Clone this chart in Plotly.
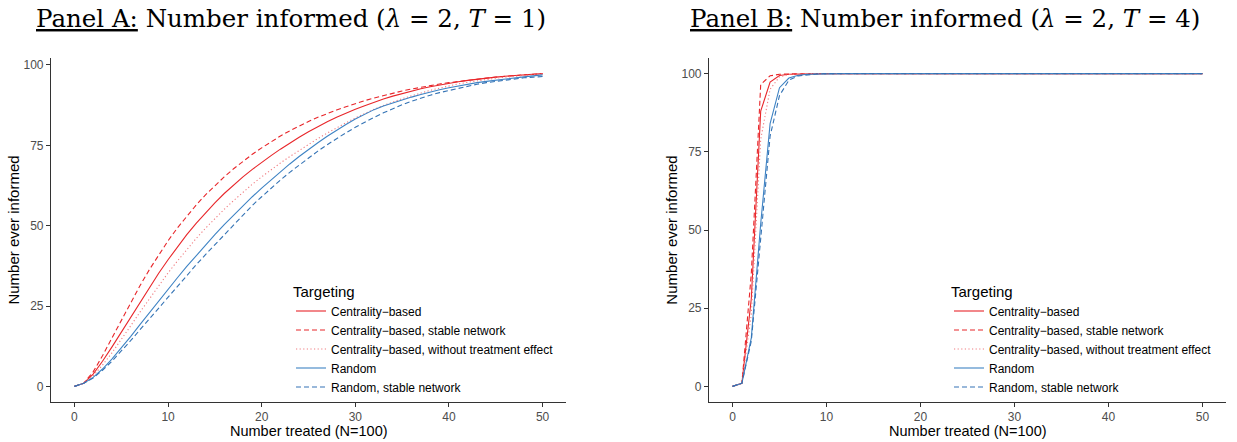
import plotly.graph_objects as go

# ---------------- data ----------------
x_treated = list(range(0, 51))

series_names = [
    "Centrality\u2212based",
    "Centrality\u2212based, stable network",
    "Centrality\u2212based, without treatment effect",
    "Random",
    "Random, stable network",
]

# Panel A (lambda = 2, T = 1)
a_central = [0, 1, 3.8, 7.8, 12.2, 16.8, 21.5, 26.2, 30.8, 35.2, 39.4, 43.4, 47.2, 50.7, 54.0,
             57.1, 60.0, 62.7, 65.2, 67.5, 69.7, 71.8, 73.8, 75.7, 77.5, 79.2, 80.8, 82.3, 83.7,
             85.0, 86.2, 87.3, 88.4, 89.4, 90.3, 91.1, 91.9, 92.6, 93.2, 93.8, 94.3, 94.8, 95.2,
             95.6, 95.9, 96.2, 96.5, 96.7, 96.9, 97.1, 97.3]
a_central_stable = [0, 1, 4.5, 9.5, 15.0, 20.5, 26.0, 31.3, 36.3, 41.0, 45.3, 49.3, 53.0, 56.4,
                    59.6, 62.5, 65.2, 67.7, 70.0, 72.2, 74.2, 76.1, 77.9, 79.5, 81.0, 82.4, 83.7,
                    84.9, 86.0, 87.0, 88.0, 88.9, 89.7, 90.5, 91.2, 91.9, 92.5, 93.1, 93.6, 94.1,
                    94.5, 94.9, 95.3, 95.6, 95.9, 96.2, 96.5, 96.7, 96.9, 97.1, 97.3]
a_central_no_te = [0, 1, 3.3, 6.6, 10.4, 14.5, 18.8, 23.1, 27.3, 31.4, 35.3, 39.0, 42.6, 46.0,
                   49.2, 52.2, 55.1, 57.8, 60.4, 62.9, 65.2, 67.4, 69.5, 71.5, 73.4, 75.3, 77.1,
                   78.8, 80.5, 82.0, 83.5, 84.9, 86.2, 87.4, 88.5, 89.5, 90.4, 91.3, 92.1, 92.8,
                   93.5, 94.1, 94.6, 95.1, 95.5, 95.9, 96.2, 96.5, 96.8, 97.0, 97.2]
a_random = [0, 1, 2.8, 5.4, 8.5, 11.9, 15.5, 19.2, 22.9, 26.6, 30.2, 33.8, 37.3, 40.7, 44.0,
            47.2, 50.3, 53.3, 56.2, 59.0, 61.7, 64.3, 66.8, 69.2, 71.5, 73.7, 75.8, 77.8, 79.7,
            81.5, 83.2, 84.7, 86.1, 87.2, 88.2, 89.1, 90.0, 90.8, 91.6, 92.3, 92.9, 93.5, 94.0,
            94.5, 94.9, 95.3, 95.7, 96.0, 96.3, 96.6, 96.9]
a_random_stable = [0, 1, 2.6, 5.0, 7.8, 10.9, 14.2, 17.6, 21.0, 24.4, 27.8, 31.2, 34.5, 37.8,
                   41.0, 44.1, 47.3, 50.4, 53.4, 56.3, 59.0, 61.7, 64.2, 66.6, 68.9, 71.1, 73.2,
                   75.2, 77.1, 78.9, 80.6, 82.2, 83.7, 85.1, 86.4, 87.6, 88.7, 89.7, 90.6, 91.4,
                   92.1, 92.8, 93.4, 94.0, 94.5, 94.9, 95.3, 95.7, 96.0, 96.2, 96.4]

# Panel B (lambda = 2, T = 4)
b_central = [0, 1, 28, 88, 97.3, 99.4, 99.8, 99.9, 100, 100, 100, 100, 100, 100, 100, 100, 100,
             100, 100, 100, 100, 100, 100, 100, 100, 100, 100, 100, 100, 100, 100, 100, 100, 100,
             100, 100, 100, 100, 100, 100, 100, 100, 100, 100, 100, 100, 100, 100, 100, 100, 100]
b_central_stable = [0, 1, 36, 96.5, 99.3, 99.8, 99.9, 100, 100, 100, 100, 100, 100, 100, 100,
                    100, 100, 100, 100, 100, 100, 100, 100, 100, 100, 100, 100, 100, 100, 100,
                    100, 100, 100, 100, 100, 100, 100, 100, 100, 100, 100, 100, 100, 100, 100,
                    100, 100, 100, 100, 100, 100]
b_central_no_te = [0, 1, 23, 79, 95, 99, 99.7, 99.9, 100, 100, 100, 100, 100, 100, 100, 100, 100,
                   100, 100, 100, 100, 100, 100, 100, 100, 100, 100, 100, 100, 100, 100, 100, 100,
                   100, 100, 100, 100, 100, 100, 100, 100, 100, 100, 100, 100, 100, 100, 100, 100,
                   100, 100]
b_random = [0, 1, 15.5, 52, 84, 95.5, 98.6, 99.5, 99.8, 99.9, 100, 100, 100, 100, 100, 100, 100,
            100, 100, 100, 100, 100, 100, 100, 100, 100, 100, 100, 100, 100, 100, 100, 100, 100,
            100, 100, 100, 100, 100, 100, 100, 100, 100, 100, 100, 100, 100, 100, 100, 100, 100]
b_random_stable = [0, 1, 14.5, 48.5, 80, 93, 97.9, 99.3, 99.7, 99.9, 100, 100, 100, 100, 100,
                   100, 100, 100, 100, 100, 100, 100, 100, 100, 100, 100, 100, 100, 100, 100,
                   100, 100, 100, 100, 100, 100, 100, 100, 100, 100, 100, 100, 100, 100, 100,
                   100, 100, 100, 100, 100, 100]

panel_a = [a_central, a_central_stable, a_central_no_te, a_random, a_random_stable]
panel_b = [b_central, b_central_stable, b_central_no_te, b_random, b_random_stable]

x_ticks = [0, 10, 20, 30, 40, 50]
y_ticks = [0, 25, 50, 75, 100]

panel_titles = [
    "<u>Panel A:</u> Number informed (<i>\u03bb</i> = 2, <i>T</i> = 1)",
    "<u>Panel B:</u> Number informed (<i>\u03bb</i> = 2, <i>T</i> = 4)",
]
x_title = "Number treated (N=100)"
y_title = "Number ever informed"
legend_title = "Targeting"

# ---------------- style ----------------
colors = ["#E8262A", "#E8262A", "#F07C80", "#3E83C4", "#3473B5"]
dashes = ["solid", "5px,3px", "1.2px,2.4px", "solid", "5px,3px"]

W, H = 1237, 442
ML, MR, MT, MB = 51, 11, 58, 40
PW = W - ML - MR
PH = H - MT - MB


def px_to_paper(px):
    return (px - ML) / PW


fig = go.Figure()

for i, name in enumerate(series_names):
    fig.add_trace(go.Scatter(x=x_treated, y=panel_a[i], mode="lines", name=name,
                             line=dict(color=colors[i], dash=dashes[i], width=1.1),
                             xaxis="x", yaxis="y", legend="legend"))
for i, name in enumerate(series_names):
    fig.add_trace(go.Scatter(x=x_treated, y=panel_b[i], mode="lines", name=name,
                             line=dict(color=colors[i], dash=dashes[i], width=1.1),
                             xaxis="x2", yaxis="y2", legend="legend2"))


def expand(lo, hi, f=0.05):
    d = (hi - lo) * f
    return [lo - d, hi + d]


ya_max = max(max(s) for s in panel_a)
yb_max = max(max(s) for s in panel_b)

axis_common = dict(
    showline=True, linecolor="#333333", linewidth=1.1,
    ticks="outside", ticklen=4, tickwidth=1.1, tickcolor="#333333",
    tickfont=dict(family="Liberation Sans", size=12, color="#4D4D4D"),
    showgrid=False, zeroline=False, automargin=False,
    title_font=dict(family="Liberation Sans", size=15, color="black"),
)

xa_dom = [0, px_to_paper(566)]
xb_dom = [px_to_paper(709), 1]

fig.update_layout(
    width=W, height=H,
    margin=dict(l=ML, r=MR, t=MT, b=MB, autoexpand=False),
    paper_bgcolor="white", plot_bgcolor="white",
    font=dict(family="Liberation Sans", color="black"),
    xaxis=dict(domain=xa_dom, range=expand(0, 50), tickvals=x_ticks, anchor="y",
               **axis_common),
    yaxis=dict(domain=[0, 1], range=expand(0, ya_max), tickvals=y_ticks, anchor="x",
               title=dict(text=y_title, standoff=0), **axis_common),
    xaxis2=dict(domain=xb_dom, range=expand(0, 50), tickvals=x_ticks, anchor="y2",
                **axis_common),
    yaxis2=dict(domain=[0, 1], range=expand(0, yb_max), tickvals=y_ticks, anchor="x2",
                title=dict(text=y_title, standoff=0), **axis_common),
    showlegend=True,
)

# x-axis titles, centred under each panel
for dom in (xa_dom, xb_dom):
    fig.add_annotation(x=(dom[0] + dom[1]) / 2, y=-(422 - (H - MB)) / PH,
                       xref="paper", yref="paper", text=x_title, showarrow=False,
                       xanchor="center", yanchor="top", borderpad=0,
                       font=dict(family="Liberation Sans", size=14.5, color="black"))

legend_common = dict(
    title=dict(text=legend_title, font=dict(family="Liberation Sans", size=15, color="black")),
    font=dict(family="Liberation Sans", size=12, color="black"),
    bgcolor="rgba(0,0,0,0)", xanchor="left", yanchor="bottom", y=0.0,
    itemwidth=30, tracegroupgap=0,
)
fig.update_layout(
    legend=dict(x=px_to_paper(291), **legend_common),
    legend2=dict(x=px_to_paper(949), **legend_common),
)

title_y = 1 + (MT - 18) / PH
for cx, txt in zip([291, 945], panel_titles):
    fig.add_annotation(x=px_to_paper(cx), y=title_y, xref="paper", yref="paper",
                       text=txt, showarrow=False, xanchor="center", yanchor="middle",
                       font=dict(family="DejaVu Serif", size=24.5, color="black"))

fig.write_html("out.html",
               config={"displayModeBar": False},
               post_script="document.body.style.margin='0px';document.body.style.overflow='hidden';")
